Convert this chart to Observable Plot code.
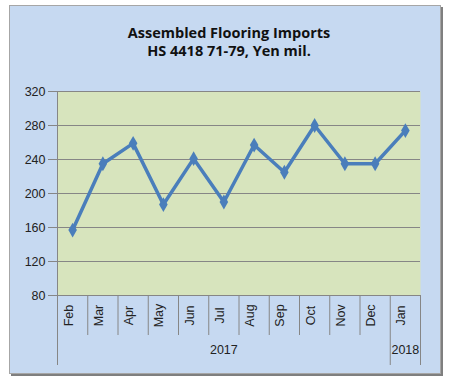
<!DOCTYPE html>
<html><head><meta charset="utf-8">
<script src="https://cdn.jsdelivr.net/npm/d3@7"></script>
<script src="https://cdn.jsdelivr.net/npm/@observablehq/plot@0.6"></script>
<style>
html,body{margin:0;padding:0;background:#fff;}
body{width:453px;height:385px;overflow:hidden;position:relative;font-family:"Liberation Sans",Arial,sans-serif;}
#box{position:absolute;left:10px;top:6px;width:430px;height:367px;background:#c6d9f1;box-shadow:0 0 0 1px #a6a6a6,2px 2px 0 1px #7f7f7f;}
#title{position:absolute;left:4px;top:18px;width:430px;text-align:center;font-family:"Open Sans",sans-serif;font-weight:bold;font-size:14.5px;line-height:18px;color:#111;}
#chart{position:absolute;left:0;top:0;}
</style>
</head><body>
<div id="box"><div id="title">Assembled Flooring Imports<br>HS 4418 71-79, Yen mil.</div><div id="chart"></div></div>
<script>
const months = ["Feb","Mar","Apr","May","Jun","Jul","Aug","Sep","Oct","Nov","Dec","Jan"];
const imports = [157,235,259,187,241,190,257,225,280,235,235,274];
const years = ["2017","2018"];
const yearFirst = [0,11];
const yearLast = [10,11];
const yTicks = [80,120,160,200,240,280,320];

const rows = months.map((m,i)=>({i, month:m, value:imports[i]}));
const yearRows = years.map((y,k)=>({year:y, mid:(yearFirst[k]+yearLast[k])/2}));
const bounds = d3.range(months.length+1).map(i=>i-0.5);
const yearBounds = [yearFirst[0]-0.5, ...yearLast.map(v=>v+0.5)];
const shortBounds = bounds.filter(b=>!yearBounds.includes(b));

const W=430,H=367,mL=47,mR=20,mT=85,mB=78;
const plotH = H-mT-mB;

const chart = Plot.plot({
  width:W, height:H, marginLeft:mL, marginRight:mR, marginTop:mT, marginBottom:mB,
  style:{background:"transparent", fontSize:"12px", fontFamily:"'Liberation Sans',Arial,sans-serif", color:"#222"},
  x:{type:"linear", domain:[-0.5, months.length-0.5], axis:null},
  y:{domain:[80,320], axis:null},
  marks:[
    Plot.frame({fill:"#d7e4bd", stroke:"none"}),
    Plot.gridY(yTicks, {stroke:"#868686", strokeOpacity:1, strokeWidth:1}),
    Plot.ruleX([yearBounds[0]], {stroke:"#868686", insetBottom:-70}),
    Plot.ruleX(yearBounds.slice(1), {stroke:"#868686", insetTop:plotH, insetBottom:-70}),
    Plot.ruleX(shortBounds, {stroke:"#868686", insetTop:plotH, insetBottom:-40}),
    Plot.tickY(yTicks, {y:d=>d, stroke:"#868686", insetLeft:-9, insetRight:plotW()}),
    Plot.text(yTicks, {y:d=>d, text:d=>String(d), frameAnchor:"left", dx:-12, textAnchor:"end", fontSize:12.5, fill:"#222"}),
    Plot.text(rows, {x:"i", text:"month", frameAnchor:"bottom", dy:20, rotate:-90, textAnchor:"middle", fontSize:12.5, fill:"#222"}),
    Plot.text(yearRows, {x:"mid", text:"year", frameAnchor:"bottom", dy:58, textAnchor:"middle", fontSize:12.5, fill:"#222"}),
    Plot.line(rows, {x:"i", y:"value", stroke:"#4a7ebb", strokeWidth:3.5, strokeLinejoin:"round"}),
    Plot.dot(rows, {x:"i", y:"value", symbol:"diamond", r:4.5, fill:"#4a7ebb", stroke:"none"})
  ]
});
function plotW(){ return W-mL-mR; }
document.getElementById("chart").appendChild(chart);
</script>
</body></html>
